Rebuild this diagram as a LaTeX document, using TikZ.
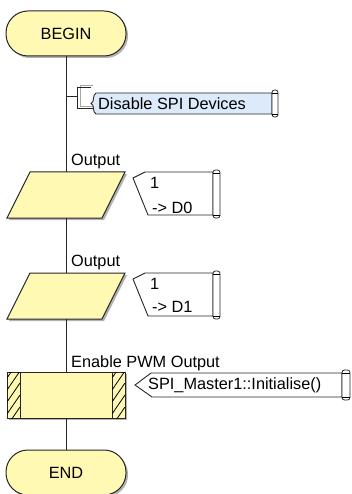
\documentclass[tikz,border=0pt]{standalone}
\usepackage{fontspec}
\setmainfont{Liberation Sans}
\usetikzlibrary{calc,shadows}

\definecolor{flowyellow}{RGB}{255,249,180}
\definecolor{noteblue}{RGB}{221,234,252}

\begin{document}
\begin{tikzpicture}[x=1pt,y=-1pt,
  font=\fontsize{16.3}{19}\selectfont,
  flowline/.style={line width=1pt,draw=black!85},
  softshadow/.style={drop shadow={shadow xshift=2pt,shadow yshift=-2pt,fill=black,opacity=0.3}},
  terminal/.style={flowline,fill=flowyellow,rectangle,rounded corners=22pt,
    minimum width=120pt,minimum height=45pt,inner sep=0pt,softshadow},
  ioframe/.style={rectangle,minimum width=118pt,minimum height=46pt,inner sep=0pt},
  iofill/.style={flowline,fill=flowyellow,softshadow},
  macrobox/.style={flowline,fill=flowyellow,rectangle,
    minimum width=118pt,minimum height=46pt,inner sep=0pt,softshadow},
  steplabel/.style={anchor=base west,inner sep=0pt},
  notetext/.style={anchor=base west,inner sep=0pt},
  notebox/.style={line width=0.9pt,draw=black!85},
  scrollend/.style={line width=0.8pt,draw=black!85,fill=white,rounded corners=2.5pt}
]
\useasboundingbox[fill=white] (0,0) rectangle (352,494);

% ---- flowchart icons ----
\node[terminal] (begin) at (66,33.5) {BEGIN};
\node[ioframe] (out1) at (66,195) {};
\node[ioframe] (out2) at (66,296) {};
\node[macrobox] (call) at (66,395) {};
\node[terminal] (end) at (66,472.5) {END};

% parallelogram outlines of the output icons
\foreach \n in {out1,out2}
  \draw[iofill] ($(\n.center)+(-36,-23)$) -- ++(95,0) -- ++(-23,46) -- ++(-95,0) -- cycle;

% icon captions
\node[steplabel] (lab1) at (71,166) {Output};
\node[steplabel] (lab2) at (71,266) {Output};
\node[steplabel] (lab3) at (71,367) {Enable PWM Output};

% flow lines
\draw[flowline] (begin.south) -- (out1.north);
\draw[flowline] (out1.south) -- (out2.north);
\draw[flowline] (out2.south) -- (call.north);
\draw[flowline] (call.south) -- (end.north);

% hatched side panels of the macro call
\draw[flowline] (20,372) -- (20,418);
\draw[flowline] (112,372) -- (112,418);
\begin{scope}
  \clip (7,372) rectangle (20,418);
  \foreach \k in {-1,...,4}
    \draw[line width=0.8pt] (7,{426-12*\k}) -- (20,{407-12*\k});
\end{scope}
\begin{scope}
  \clip (112,372) rectangle (125,418);
  \foreach \k in {-1,...,4}
    \draw[line width=0.8pt] (112,{426-12*\k}) -- (125,{407-12*\k});
\end{scope}

% ---- comment attached to the flow line ----
\coordinate (tap) at (66,97);
\coordinate (brk) at (77,97);
\draw[flowline] (tap) -- (brk);
\draw[line width=0.9pt,draw=black!35] (93,85) -- (80,85) -- (80,106) -- (95,106);
\draw[line width=0.9pt,draw=black!85] (91,87) -- (77,87) -- (77,108) -- (93,108);
\draw[notebox,fill=noteblue] (96,93) -- (272,93) -- (272,114) -- (96,114)
  .. controls (92,112) and (95,105) .. (91,103.5)
  .. controls (95,102) and (92,95) .. (96,93) -- cycle;
\draw[scrollend] (272,90) rectangle (278,117);
\draw[line width=0.6pt] (272,93) -- (278,93) (272,114) -- (278,114);
\node[notetext] (note) at (98,110) {Disable SPI Devices};

% ---- output value tags ----
\draw[notebox,fill=white] (145,172) -- (213,172) -- (213,215) -- (148,215) -- (133,178) -- cycle;
\draw[scrollend] (213,170) rectangle (220,218);
\draw[line width=0.6pt] (213,173) -- (220,173) (213,215) -- (220,215);
\node[notetext] (v1) at (150,188) {1};
\node[notetext] (d1) at (152,213) {-> D0};

\draw[notebox,fill=white] (145,273) -- (213,273) -- (213,316) -- (148,316) -- (133,279) -- cycle;
\draw[scrollend] (213,271) rectangle (220,319);
\draw[line width=0.6pt] (213,274) -- (220,274) (213,316) -- (220,316);
\node[notetext] (v2) at (150,289.5) {1};
\node[notetext] (d2) at (152,312.5) {-> D1};

% ---- macro call tag ----
\draw[notebox,fill=white] (151,373) -- (342,373) -- (342,397) -- (152,397) -- (135,385) -- cycle;
\draw[scrollend] (342,370) rectangle (350,400);
\draw[line width=0.6pt] (342,373) -- (350,373) (342,397) -- (350,397);
\node[notetext] (callnote) at (148,389.5) {SPI\_Master1::Initialise()};
\end{tikzpicture}
\end{document}
